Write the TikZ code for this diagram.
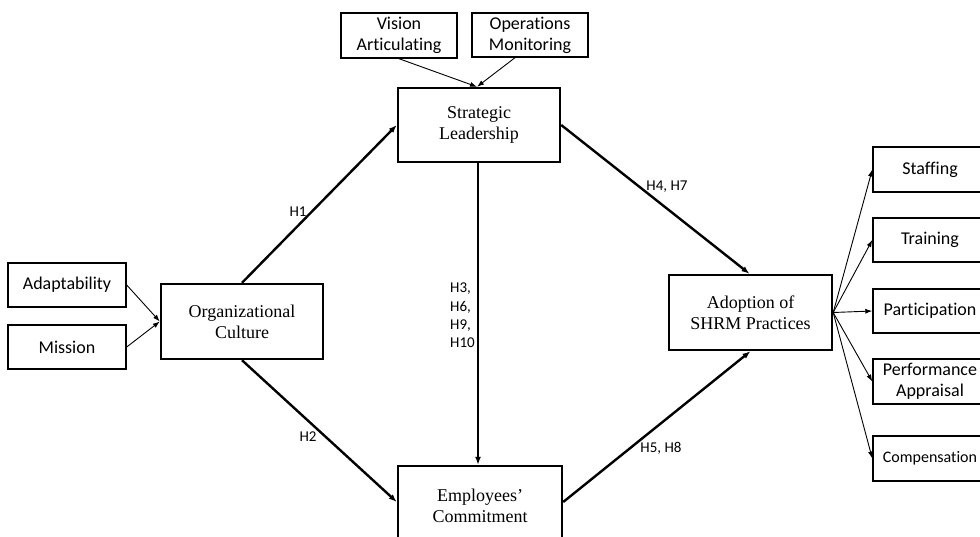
\documentclass[tikz,border=0pt]{standalone}
\usepackage{fontspec}
\setmainfont{Liberation Serif}
\newfontfamily\calib[Ligatures={NoCommon}]{Carlito}
\usetikzlibrary{arrows.meta,positioning,calc}
\tikzset{
  mainbox/.style={draw, line width=2.4pt, align=center, font=\fontsize{18}{21}\selectfont, inner sep=0pt},
  smallbox/.style={draw, line width=1.4pt, align=center, font=\calib\fontsize{18}{21}\selectfont, inner sep=0pt},
  thick arrow/.style={line width=2.4pt, -{Latex[length=8pt,width=6pt]}},
  thin arrow/.style={line width=0.9pt, -{Latex[length=7pt,width=5pt]}},
  hlabel/.style={font=\calib\fontsize{15}{18.3}\selectfont, inner sep=0pt}
}
\begin{document}
\begin{tikzpicture}[x=1pt,y=-1pt]
\useasboundingbox (0,0) rectangle (980,536);
\clip (0,0) rectangle (980,536);
% main boxes
\node[mainbox, minimum width=162pt, minimum height=74pt] (SL) at (479,125) {Strategic\\Leadership};
\node[mainbox, minimum width=162pt, minimum height=75pt] (OC) at (242,321.5) {Organizational\\Culture};
\node[mainbox, minimum width=164pt, minimum height=80pt] (EC) at (480,506) {Employees'\\Commitment};
\node[mainbox, minimum width=163pt, minimum height=75pt] (AD) at (750.5,312.5) {Adoption of\\SHRM Practices};
% small boxes
\node[smallbox, minimum width=116pt, minimum height=45pt] (VA) at (399,35.5) {Vision\\Articulating};
\node[smallbox, minimum width=116pt, minimum height=44pt] (OM) at (530,35) {Operations\\Monitoring};
\node[smallbox, minimum width=118pt, minimum height=44pt] (AP) at (67,285) {Adaptability};
\node[smallbox, minimum width=118pt, minimum height=44pt] (MI) at (67,347) {Mission};
\node[smallbox, minimum width=114pt, minimum height=45pt] (ST) at (930,169.5) {Staffing};
\node[smallbox, minimum width=114pt, minimum height=44pt] (TR) at (930,240) {Training};
\node[smallbox, minimum width=114pt, minimum height=44pt] (PA) at (930,311) {Participation};
\node[smallbox, minimum width=114pt, minimum height=45pt] (PE) at (930,381.5) {Performance\\Appraisal};
\node[smallbox, minimum width=114pt, minimum height=45pt, font=\calib\fontsize{16}{19}\selectfont] (CO) at (930,458.5) {Compensation};
% thin arrows
\draw[thin arrow] (VA.south) -- ([xshift=-2pt]SL.north);
\draw[thin arrow] ([xshift=-15pt]OM.south) -- ([xshift=-2pt]SL.north);
\draw[thin arrow] (AP.east) -- (OC.west);
\draw[thin arrow] (MI.east) -- (OC.west);
\foreach \t in {ST,TR,PA,PE,CO} \draw[thin arrow] (AD.east) -- (\t.west);
% thick arrows
\draw[thick arrow] (OC.north) -- (SL.west);
\draw[thick arrow] (OC.south) -- ([yshift=4pt]EC.west);
\draw[thick arrow] ([xshift=-1pt]SL.south) -- ([xshift=-2pt]EC.north);
\draw[thick arrow] (SL.east) -- ([xshift=-1pt]AD.north);
\draw[thick arrow] ([yshift=4pt]EC.east) -- (AD.south);
% labels
\node[hlabel] (h1) at (298,212) {H1};
\node[hlabel] (h2) at (308,437) {H2};
\node[hlabel] (h47) at (667,187) {H4, H7};
\node[hlabel] (h58) at (661,448) {H5, H8};
\node[hlabel, anchor=west, align=left] (h3) at (450,315.5) {H3,\\H6,\\H9,\\H10};
\end{tikzpicture}
\end{document}
